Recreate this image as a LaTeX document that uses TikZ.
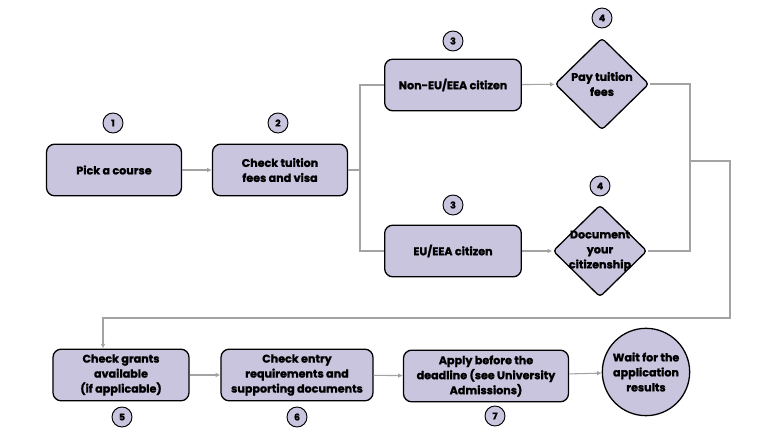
\documentclass[tikz,border=0pt]{standalone}
\usepackage{fontspec}
\setmainfont{Poppins}[BoldFeatures={FakeBold=1.3}]
\usetikzlibrary{shapes.geometric,arrows.meta}

\definecolor{lilac}{HTML}{C9C5DF}
\definecolor{wire}{HTML}{A3A3A3}

\begin{document}
\begin{tikzpicture}[x=0.03cm, y=-0.03cm,
        font=\bfseries\fontsize{9.5}{12.8}\selectfont,
        stepbox/.style={draw, line width=1.1pt, fill=lilac, rounded corners=7pt,
            align=center, inner sep=2pt, minimum height=1.55cm},
        diam/.style={draw, line width=1.1pt, fill=lilac, diamond, rounded corners=3pt,
            minimum width=2.82cm, minimum height=2.76cm, inner sep=0pt},
        dtext/.style={align=center, inner sep=0pt},
        num/.style={draw, line width=0.8pt, fill=lilac, circle, minimum size=0.6cm,
            inner sep=0pt, font=\bfseries\fontsize{8}{9}\selectfont},
        wireline/.style={draw=wire, line width=0.9pt},
        arr/.style={wireline, -{Latex[length=4pt, width=4pt]}}]
    \useasboundingbox (0, 0) rectangle (770, 433);

    % top row
    \node[stepbox, minimum width=4.05cm] (pick) at (114, 170) {Pick a course};
    \node[stepbox, minimum width=4.05cm] (check) at (280, 170) {Check tuition\\fees and visa};
    \node[num] (n1) at (113, 123) {1};
    \node[num] (n2) at (278, 123) {2};

    % the two branches
    \node[stepbox, minimum width=4.1cm] (noneu) at (453, 85) {Non-EU/EEA citizen};
    \node[stepbox, minimum width=4.1cm] (eu) at (453, 251) {EU/EEA citizen};
    \node[diam, label={[dtext]center:{Pay tuition\\fees}}] (pay) at (602, 84) {};
    \node[diam, label={[dtext]center:{Document\\your\\citizenship}}] (doc) at (600, 251) {};
    \node[num] (n3a) at (453, 41) {3};
    \node[num] (n3b) at (453, 205) {3};
    \node[num] (n4a) at (602, 18) {4};
    \node[num] (n4b) at (600, 186) {4};

    % bottom row
    \node[stepbox, minimum width=4.08cm] (grants) at (121, 375) {Check grants\\available\\(if applicable)};
    \node[stepbox, minimum width=4.56cm] (entry) at (297, 375) {Check entry\\requirements and\\supporting documents};
    \node[stepbox, minimum width=4.95cm] (apply) at (486, 376) {Apply before the\\deadline (see University\\Admissions)};
    \node[draw, line width=1.1pt, fill=lilac, circle, minimum size=2.62cm, inner sep=0pt,
        align=center] (wait) at (646, 372) {Wait for the\\application\\results};
    \node[num] (n5) at (122, 417) {5};
    \node[num] (n6) at (297, 417) {6};
    \node[num] (n7) at (495, 416) {7};

    % connectors
    \coordinate (split) at (360, 170);
    \coordinate (join) at (690, 161);
    \coordinate (drop) at (730, 318);
    \draw[arr] (pick) -- (check);
    \draw[wireline] (check.east) -- (split);
    \draw[wireline] (noneu.west) -| (split) |- (eu.west);
    \draw[arr] (noneu) -- (pay);
    \draw[arr] (eu) -- (doc);
    \draw[wireline] (pay.east) -| (join) |- (doc.east);
    \draw[arr] (join) -| (drop) -| ([xshift=-0.54cm]grants.north);
    \draw[arr] (grants) -- (entry);
    \draw[arr] (entry) -- (apply);
    \draw[arr] (apply) -- (wait);
\end{tikzpicture}
\end{document}
